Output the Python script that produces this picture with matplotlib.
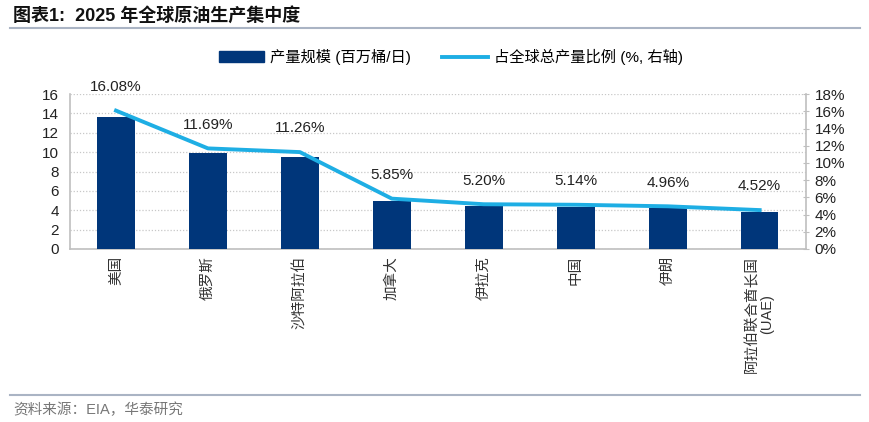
import numpy as np
import matplotlib.pyplot as plt
from matplotlib.lines import Line2D
from matplotlib.patches import Patch

plt.rcParams['font.family'] = ['Liberation Sans', 'Noto Sans CJK SC', 'DejaVu Sans']

countries = ['美国', '俄罗斯', '沙特阿拉伯', '加拿大', '伊拉克', '中国', '伊朗', '阿拉伯联合酋长国\n(UAE)']
output = [13.6, 9.9, 9.5, 4.95, 4.4, 4.35, 4.2, 3.82]
share = [16.08, 11.69, 11.26, 5.85, 5.20, 5.14, 4.96, 4.52]

bar_color = '#00367a'
line_color = '#1eaee4'
axis_grey = '#bfbfbf'

fig = plt.figure(figsize=(8.7, 4.22), dpi=100)
ax = fig.add_axes([0.0805, 0.41, 0.8455, 0.367])
ax2 = ax.twinx()

x = np.arange(len(countries))
ax.bar(x, output, width=0.41, color=bar_color, zorder=3)
ax2.plot(x, share, color=line_color, lw=2.8, zorder=4)
for xi, v in zip(x, share):
    ax2.annotate(f'{v:.2f}%', (xi, v), xytext=(0, 12), textcoords='offset points',
                 ha='center', va='bottom', fontsize=11, color='#222222')

ax.set_xlim(-0.5, len(countries) - 0.5)
ax.set_ylim(0, 16)
ax.set_yticks(range(0, 17, 2))
ax2.set_ylim(0, 18)
ax2.set_yticks(range(0, 19, 2))
ax2.set_yticklabels([f'{t}%' for t in range(0, 19, 2)])

ax.yaxis.grid(True, linestyle=(0, (1, 1.5)), color='#c8c8c8', lw=0.9, zorder=0)
ax.set_axisbelow(True)
ax.set_zorder(ax2.get_zorder() - 1)
ax.patch.set_visible(False)

for a in (ax, ax2):
    a.spines['top'].set_visible(False)
    for s in ('left', 'right', 'bottom'):
        a.spines[s].set_color(axis_grey)
        a.spines[s].set_linewidth(1.2)
ax.spines['right'].set_visible(False)
ax2.spines['left'].set_visible(False)
ax2.spines['bottom'].set_visible(False)

ax.tick_params(axis='y', length=0, labelsize=11, pad=8, labelcolor='#222222')
ax.tick_params(axis='x', length=0, pad=5)
ax2.tick_params(axis='y', direction='inout', length=5, color=axis_grey, labelsize=11,
                pad=4, labelcolor='#222222')

ax.set_xticks(x)
ax.set_xticklabels(countries, rotation=90, va='top', ha='center', fontsize=10.5,
                   color='#333333', multialignment='center', linespacing=1.05)

handles = [Patch(color=bar_color), Line2D([], [], color=line_color, lw=2.8)]
labels = ['产量规模 (百万桶/日)', '占全球总产量比例 (%, 右轴)']
fig.legend(handles, labels, loc='center', bbox_to_anchor=(0.518, 0.865), ncol=2,
           frameon=False, fontsize=11, handlelength=3.0, handleheight=0.7,
           columnspacing=2.0, handletextpad=0.4)

fig.text(0.015, 0.962, '图表1:  2025 年全球原油生产集中度', fontsize=13, fontweight='bold',
         va='center', ha='left', color='#111111')
fig.add_artist(Line2D([0.012, 0.988], [0.934, 0.934], color='#aab4c4', lw=1.5))
fig.add_artist(Line2D([0.012, 0.988], [0.064, 0.064], color='#aab4c4', lw=1.5))
fig.text(0.015, 0.028, '资料来源：EIA，华泰研究', fontsize=10.5, va='center', ha='left',
         color='#777777')

fig.savefig('out.png', dpi=100)
